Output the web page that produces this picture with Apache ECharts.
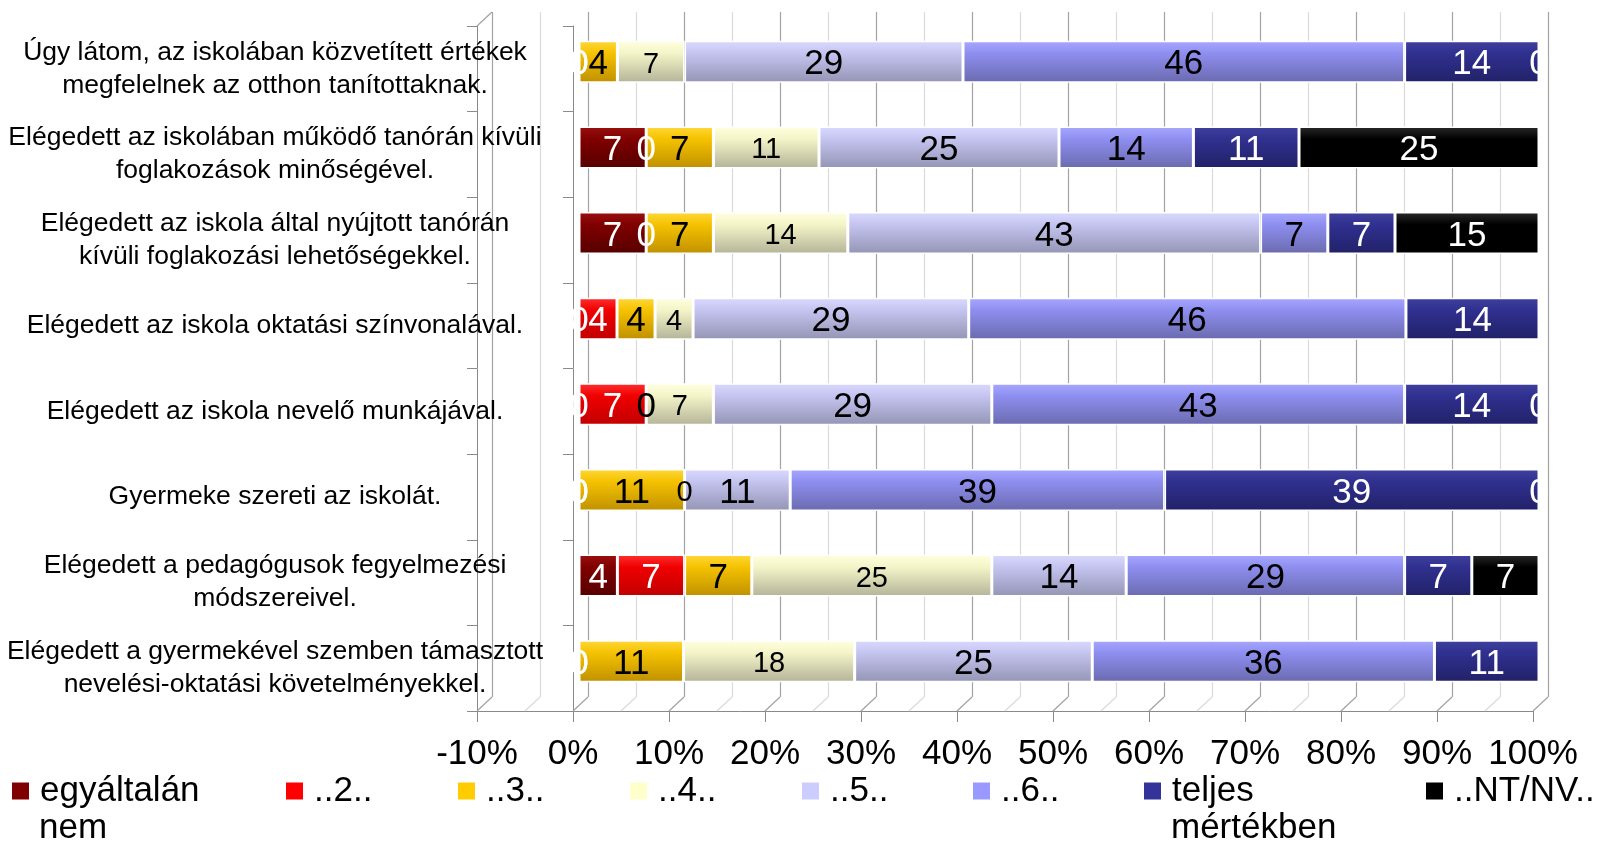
<!DOCTYPE html>
<html><head><meta charset="utf-8">
<script src="https://cdn.jsdelivr.net/npm/echarts@6/dist/echarts.min.js"></script>
<style>html,body{margin:0;padding:0;background:#fff}#c{width:1602px;height:845px}</style>
</head><body><div id="c"></div>
<script>
// ---------- DATA ----------
const categories = [
  'Úgy látom, az iskolában közvetített értékek\nmegfelelnek az otthon tanítottaknak.',
  'Elégedett az iskolában működő tanórán kívüli\nfoglakozások minőségével.',
  'Elégedett az iskola által nyújtott tanórán\nkívüli foglakozási lehetőségekkel.',
  'Elégedett az iskola oktatási színvonalával.',
  'Elégedett az iskola nevelő munkájával.',
  'Gyermeke szereti az iskolát.',
  'Elégedett a pedagógusok fegyelmezési\nmódszereivel.',
  'Elégedett a gyermekével szemben támasztott\nnevelési-oktatási követelményekkel.'
];
const seriesNames = ['egyáltalán nem', '..2..', '..3..', '..4..', '..5..', '..6..', 'teljes mértékben', '..NT/NV..'];
const egyaltalanNem = [0, 7, 7, 0, 0, 0, 4, 0];
const ketto        = [0, 0, 0, 4, 7, 0, 7, 0];
const harom        = [4, 7, 7, 4, 0, 11, 7, 11];
const negy         = [7, 11, 14, 4, 7, 0, 25, 18];
const ot           = [29, 25, 43, 29, 29, 11, 14, 25];
const hat          = [46, 14, 7, 46, 43, 39, 29, 36];
const teljes       = [14, 11, 7, 14, 14, 39, 7, 11];
const ntnv         = [0, 25, 15, null, 0, 0, 7, null];
const xMin = -10, xMax = 100, xInterval = 10;

// ---------- STYLE ----------
const FONT = "'Liberation Sans', Arial, sans-serif";
const flatColors = ['#800000', '#FF0000', '#FFCC00', '#FFFFCC', '#CCCCFF', '#9999FF', '#333399', '#000000'];
const gradStops = [
  ['#9a1010', '#800000', '#560000'],
  ['#ff3030', '#f00000', '#c00000'],
  ['#ffd83a', '#f5c200', '#bf9000'],
  ['#ffffe0', '#f4f4c8', '#b3b398'],
  ['#dadaff', '#c4c4f0', '#9494b4'],
  ['#a8a8ff', '#8e8ef0', '#6a6aae'],
  ['#40409e', '#303090', '#212168'],
  ['#2a2a2a', '#000000', '#000000']
];
const labelColors = ['#fff', '#fff', '#000', '#000', '#000', '#000', '#fff', '#fff'];
const legendLeft = [10, 284, 456, 628, 800, 971, 1142, 1424];
const legendSecond = { 'egyáltalán nem': ['egyáltalán', 'nem'], 'teljes mértékben': ['teljes', 'mértékben'] };

const FRONT = { left: 477, top: 26, width: 1056, height: 685 };
const BARS  = { left: 483, top: 19, width: 1056, height: 685 };
const BACK  = { left: 492, top: 12, width: 1056, height: 685 };
const AXIS_COLOR = '#8a8a8a';

const rawSeries = [egyaltalanNem, ketto, harom, negy, ot, hat, teljes, ntnv];
const rowTotals = categories.map((_, i) => rawSeries.reduce((s, a) => s + (a[i] == null ? 0 : a[i]), 0));

const chart = echarts.init(document.getElementById('c'), null, { renderer: 'canvas' });

const series = rawSeries.map((arr, k) => ({
  name: seriesNames[k],
  type: 'bar',
  stack: 'total',
  xAxisIndex: 1,
  yAxisIndex: 1,
  barWidth: 42,
  data: arr.map((v, i) => v == null ? '-' : v / rowTotals[i] * 100),
  itemStyle: {
    color: new echarts.graphic.LinearGradient(0, 0, 0, 1, [
      { offset: 0, color: gradStops[k][0] },
      { offset: 0.3, color: gradStops[k][1] },
      { offset: 1, color: gradStops[k][2] }
    ]),
    borderColor: '#ffffff',
    borderWidth: 1.5
  },
  label: {
    show: true,
    position: 'inside',
    offset: [0, 3],
    formatter: p => String(arr[p.dataIndex]),
    fontSize: k === 3 ? 29 : 35,
    fontFamily: FONT,
    color: labelColors[k]
  },
  emphasis: { disabled: true }
}));

const legends = seriesNames.map((n, k) => ({
  left: legendLeft[k],
  top: 771,
  padding: 0,
  itemWidth: 19,
  itemHeight: 19,
  selectedMode: false,
  data: [{ name: n, icon: 'rect', itemStyle: { color: flatColors[k] } }],
  formatter: name => legendSecond[name] ? legendSecond[name][0] : name,
  textStyle: { fontSize: 35, fontFamily: FONT, color: '#000', padding: [0, 0, 0, 5], lineHeight: 40 }
}));

const gridBase = { containLabel: false, outerBoundsMode: 'none' };
const option = {
  animation: false,
  backgroundColor: '#ffffff',
  grid: [
    Object.assign({}, gridBase, FRONT),
    Object.assign({}, gridBase, BARS),
    Object.assign({}, gridBase, BACK),
    Object.assign({}, gridBase, FRONT)
  ],
  xAxis: [
    { gridIndex: 0, type: 'value', min: xMin, max: xMax, interval: xInterval,
      axisLine: { show: true, onZero: false, lineStyle: { color: AXIS_COLOR, width: 1 } },
      axisTick: { show: true, length: 11, lineStyle: { color: AXIS_COLOR } },
      axisLabel: { formatter: '{value}%', fontSize: 35, fontFamily: FONT, color: '#000', margin: 26 },
      splitLine: { show: false } },
    { gridIndex: 1, type: 'value', min: xMin, max: xMax, show: false },
    { gridIndex: 2, type: 'value', min: xMin, max: xMax, interval: xInterval,
      axisLine: { show: false }, axisTick: { show: false }, axisLabel: { show: false },
      splitLine: { show: true, lineStyle: { color: '#a3a3a3', width: 1.2 } },
      minorTick: { show: false, splitNumber: 2 },
      minorSplitLine: { show: true, lineStyle: { color: '#dadada', width: 1.2 } } },
    { gridIndex: 3, type: 'value', min: xMin, max: xMax, show: false }
  ],
  yAxis: [
    { gridIndex: 0, type: 'category', data: categories, inverse: true,
      axisLine: { show: true, onZero: true, lineStyle: { color: AXIS_COLOR } },
      axisTick: { show: true, length: 10, lineStyle: { color: AXIS_COLOR } },
      axisLabel: { fontSize: 26.5, fontFamily: FONT, color: '#000', align: 'center', margin: 202, lineHeight: 33 },
      splitLine: { show: false } },
    { gridIndex: 1, type: 'category', data: categories, inverse: true, show: false },
    { gridIndex: 2, type: 'category', data: categories, inverse: true, show: false },
    { gridIndex: 3, type: 'category', data: categories, inverse: true,
      axisLine: { show: true, onZero: false, lineStyle: { color: AXIS_COLOR } },
      axisTick: { show: true, length: 10, lineStyle: { color: AXIS_COLOR } },
      axisLabel: { show: false }, splitLine: { show: false } }
  ],
  legend: legends,
  series: series
};
chart.setOption(option);

// 3D frame: floor diagonals, left wall top edge, second legend lines
const graphics = [];
const frontBottom = FRONT.top + FRONT.height;
const backBottom = BACK.top + BACK.height;
for (let v = xMin; v <= xMax; v += xInterval / 2) {
  const xf = chart.convertToPixel({ xAxisIndex: 0 }, v);
  const xb = chart.convertToPixel({ xAxisIndex: 2 }, v);
  const major = Math.abs(v % xInterval) < 1e-9;
  graphics.push({ type: 'line', z: 1, shape: { x1: xf, y1: frontBottom, x2: xb, y2: backBottom },
    style: { stroke: major ? '#a3a3a3' : '#dadada', lineWidth: 1.2 } });
}
const xf0 = chart.convertToPixel({ xAxisIndex: 0 }, xMin);
const xb0 = chart.convertToPixel({ xAxisIndex: 2 }, xMin);
graphics.push({ type: 'line', z: 1, shape: { x1: xf0, y1: FRONT.top, x2: xb0, y2: BACK.top },
  style: { stroke: '#a3a3a3', lineWidth: 1.2 } });
seriesNames.forEach((n, k) => {
  if (legendSecond[n]) {
    graphics.push({ type: 'text', left: legendLeft[k] + 29, top: 811,
      style: { text: legendSecond[n][1], font: '35px ' + FONT, fill: '#000' } });
  }
});
chart.setOption({ graphic: graphics });
</script>
</body></html>
